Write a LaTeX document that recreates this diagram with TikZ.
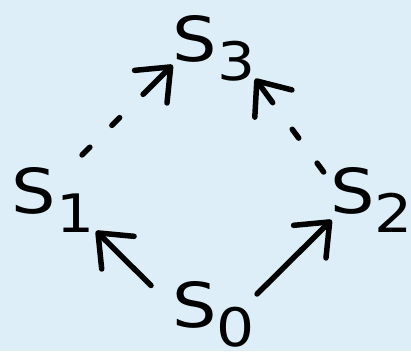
\documentclass[tikz,border=0pt]{standalone}
\usepackage{fontspec}
\setmainfont{DejaVu Sans}
\usepackage{tikz}
\usetikzlibrary{arrows.meta,positioning,calc}
\definecolor{bgblue}{RGB}{221,238,248}
\tikzset{
  statenode/.style={inner sep=0pt, outer sep=0pt, anchor=base west, font=\fontsize{62pt}{62pt}\selectfont},
  arrln/.style={-{Straight Barb[length=28pt,width=46pt,round]}, line width=5.5pt, line cap=round, line join=round},
  dashln/.style={arrln, dash pattern=on 11pt off 31pt on 11pt off 33pt on 100pt off 1pt},
}
\newcommand{\stname}[1]{\scalebox{1.13}[1]{S\raisebox{-19pt}{\fontsize{53pt}{53pt}\selectfont #1}\kern-4pt}}

\begin{document}
\begin{tikzpicture}[x=1pt,y=1pt]
    \fill[bgblue] (0,0) rectangle (411,351);
    \useasboundingbox (0,0) rectangle (411,351);
    % states
    \node[statenode] (s0) at (172.5,24) {\stname{0}};
    \node[statenode] (s1) at (12,138) {\stname{1}};
    \node[statenode] (s2) at (330,138) {\stname{2}};
    \node[statenode] (s3) at (172.6,289) {\stname{3}};
    % solid steps
    \draw[arrln] ([shift={(-21.5,-4.5)}]s0.north west) -- ([shift={(6,1)}]s1.south east);
    \draw[arrln] ([shift={(6.5,-13)}]s0.north east) -- ([shift={(1.6,12)}]s2.south west);
    % dashed steps
    \draw[dashln] ([shift={(-8,12)}]s1.north east) -- ([shift={(0,-3)}]s3.base west);
    \draw[dashln] ([shift={(-6.4,-5)}]s2.north west) -- ([shift={(4.5,3)}]s3.south east);
\end{tikzpicture}
\end{document}
